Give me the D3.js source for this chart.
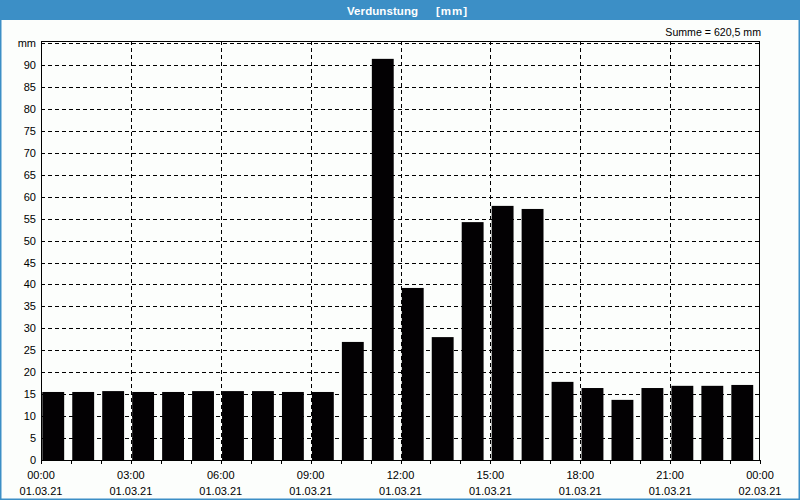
<!DOCTYPE html>
<html><head><meta charset="utf-8">
<script src="https://cdn.jsdelivr.net/npm/d3@7"></script>
<style>
html,body{margin:0;padding:0;background:#fcfefc;}
svg{display:block;font-family:"Liberation Sans",Arial,sans-serif;}
</style></head>
<body>
<svg id="c" width="800" height="500"></svg>
<script>
const titleMain = "Verdunstung";
const titleUnit = "[mm]";
const unit = "mm";
const sumLabel = "Summe = 620,5 mm";
const hours = d3.range(0, 24);
const values = [15.5,15.5,15.7,15.5,15.5,15.7,15.7,15.7,15.5,15.5,
                26.9,91.4,39.2,28.0,54.2,57.9,57.2,17.8,16.4,13.7,16.4,16.9,16.9,17.1];
const yTicks = d3.range(0, 95, 5);
const xTickTimes = ["00:00","03:00","06:00","09:00","12:00","15:00","18:00","21:00","00:00"];
const xTickDates = ["01.03.21","01.03.21","01.03.21","01.03.21","01.03.21","01.03.21","01.03.21","01.03.21","02.03.21"];

const svg = d3.select("#c");
const W = 800, H = 500;
const L = 41, R = 760, T = 41, B = 460;

svg.append("rect").attr("x",0).attr("y",0).attr("width",W).attr("height",H).attr("fill","#fcfefc");
// title bar
svg.append("rect").attr("x",0).attr("y",0).attr("width",W).attr("height",20).attr("fill","#3c8fc6");
// outer border
svg.append("rect").attr("x",0.75).attr("y",0.75).attr("width",W-1.5).attr("height",H-1.5)
  .attr("fill","none").attr("stroke","#3c8fc6").attr("stroke-width",1.5);
svg.append("text").attr("x",347).attr("y",14.5)
  .attr("fill","#fff").attr("font-weight","bold").attr("font-size",11.5)
  .attr("textLength",71).text(titleMain);
svg.append("text").attr("x",436).attr("y",14.5)
  .attr("fill","#fff").attr("font-weight","bold").attr("font-size",11.5)
  .attr("textLength",31).text(titleUnit);
svg.append("text").attr("x",761).attr("y",36).attr("text-anchor","end")
  .attr("fill","#000").attr("font-size",10.6).text(sumLabel);

const x = d3.scaleLinear().domain([0,24]).range([L,R]);
const y = d3.scaleLinear().domain([0,90]).range([B,65]);

// horizontal grid
const g = svg.append("g");
g.selectAll("line.h").data(yTicks.slice(1).concat([95])).enter().append("line")
  .attr("x1",L).attr("x2",R).attr("y1",d=>Math.round(y(d))+0.5).attr("y2",d=>Math.round(y(d))+0.5)
  .attr("stroke","#000").attr("stroke-width",1).attr("stroke-dasharray","4,3");
// vertical grid
g.selectAll("line.v").data(d3.range(3,24,3)).enter().append("line")
  .attr("x1",d=>Math.round(x(d))+0.5).attr("x2",d=>Math.round(x(d))+0.5).attr("y1",T).attr("y2",B)
  .attr("stroke","#000").attr("stroke-width",1).attr("stroke-dasharray","4,3");

// bars
const bw = x(0.73) - x(0);
svg.append("g").selectAll("rect").data(values).enter().append("rect")
  .attr("x",(d,i)=>x(hours[i])+1.3).attr("width",bw)
  .attr("y",d=>y(d)).attr("height",d=>B-y(d)).attr("fill","#030103");

// frame
svg.append("rect").attr("x",L+0.5).attr("y",T+0.5).attr("width",R-L-1).attr("height",B-T)
  .attr("fill","none").attr("stroke","#000").attr("stroke-width",1);

// y labels
svg.append("g").selectAll("text").data(yTicks).enter().append("text")
  .attr("x",36).attr("y",d=>y(d)+4).attr("text-anchor","end").attr("font-size",11).attr("fill","#000")
  .text(d=>d);
svg.append("text").attr("x",36).attr("y",y(95)+4).attr("text-anchor","end").attr("font-size",11).text(unit);

// x axis ticks
svg.append("g").selectAll("line").data(d3.range(0,25)).enter().append("line")
  .attr("x1",d=>Math.round(x(d))+0.5).attr("x2",d=>Math.round(x(d))+0.5).attr("y1",B).attr("y2",B+4)
  .attr("stroke","#000");
const lab = svg.append("g").selectAll("g").data(xTickTimes).enter().append("g")
  .attr("transform",(d,i)=>`translate(${x(i*3)},0)`);
lab.append("text").attr("y",479).attr("text-anchor","middle").attr("font-size",11).text(d=>d);
lab.append("text").attr("y",495).attr("text-anchor","middle").attr("font-size",11).text((d,i)=>xTickDates[i]);
</script>
</body></html>
